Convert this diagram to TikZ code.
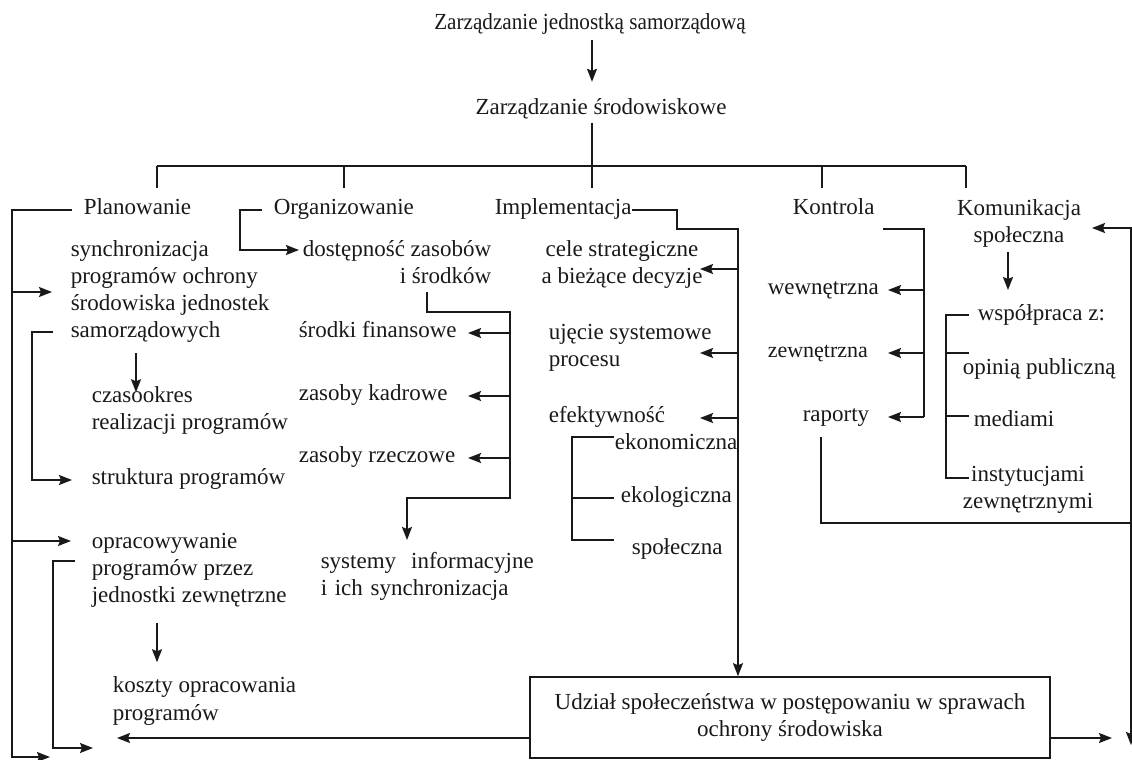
\documentclass[tikz,border=0pt]{standalone}
\usepackage{fontspec}
\setmainfont{Liberation Serif}
\usetikzlibrary{arrows.meta}
\tikzset{
  txt/.style={inner sep=0pt, anchor=mid west, align=left, font=\fontsize{11.5}{13.5}\selectfont},
  mtxt/.style={txt, anchor=west},
  ctxt/.style={txt, anchor=center, align=center},
  arr/.style={-{Stealth[length=6.5pt,width=5pt,inset=1pt]}},
}
\begin{document}
\begin{tikzpicture}[x=0.5pt,y=-0.5pt,line width=0.8pt,color=black!90]
  \useasboundingbox (0,0) rectangle (1132,760);

  % Top
  \coordinate (bus) at (592,166);
  \coordinate (busL) at (157,166);
  \coordinate (busR) at (966,166);
  \node[txt, anchor=mid] (top) at (590,25) {\scalebox{0.92}[1]{Zarządzanie jednostką samorządową}};
  \node[txt, anchor=mid] (zs) at (601,110) {Zarządzanie środowiskowe};
  \draw[arr, shorten <=2.5pt, shorten >=8pt] (top.south -| bus) -- (bus |- zs.north);
  \draw[shorten <=1.5pt] (bus |- zs.south) -- (bus);
  \draw (busL) -- (busR);
  \foreach \x [count=\i] in {157,344,592,822,966}{
    \coordinate (drop\i) at (\x,188);
    \draw (drop\i |- bus) -- (drop\i);
  }

  % Planowanie
  \node[txt] (plan) at (83,210) {Planowanie};
  \node[mtxt] (sync) at (70,292) {synchronizacja\\programów ochrony\\środowiska jednostek\\samorządowych};
  \node[mtxt] (czas) at (91,411) {czasookres\\realizacji programów};
  \node[txt] (strukt) at (91,480) {struktura programów};
  \node[mtxt] (oprac) at (91,570) {opracowywanie\\programów przez\\jednostki zewnętrzne};
  \node[mtxt] (koszty) at (112,701) {koszty opracowania\\programów};
  \coordinate (leftBot) at (12,757);
  \coordinate (leftEnd) at (50,757);
  \coordinate (opracIn) at (71,541);
  \coordinate (syncB) at (53,332);
  \coordinate (syncL) at (32,332);
  \coordinate (syncOut) at (136,353);
  \coordinate (opracB) at (75,561);
  \coordinate (opracL) at (53,748);
  \coordinate (opracEnd) at (93,748);
  \coordinate (opracOut) at (157,623);
  \draw[arr, shorten <=5.5pt] (plan.mid west) -| (leftBot) -- (leftEnd);
  \draw[arr, shorten >=9pt] (sync.west -| leftBot) -- (sync.west);
  \draw[arr] (opracIn -| leftBot) -- (opracIn);
  \draw[arr, shorten >=9.5pt] (syncB) -- (syncL) |- (strukt.mid west);
  \draw[arr, shorten >=-3pt] (syncOut) -- (syncOut |- czas.north);
  \draw[arr] (opracB) -| (opracL) -- (opracEnd);
  \draw[arr, shorten >=7pt] (opracOut) -- (opracOut |- koszty.north);

  % Organizowanie
  \node[txt] (org) at (273,210) {Organizowanie};
  \node[txt, anchor=east, align=right] (dost) at (492,262) {dostępność zasobów\\i środków};
  \node[txt] (fin) at (298,333) {środki finansowe};
  \node[txt] (kadr) at (298,396) {zasoby kadrowe};
  \node[txt] (rzecz) at (298,458) {zasoby rzeczowe};
  \node[mtxt, text width=106.5pt] (sys) at (320,576) {systemy\hfill informacyjne\\i ich synchronizacja};
  \coordinate (orgL) at (240,250);
  \coordinate (dostB) at (427,292);
  \coordinate (orgTop) at (510,312);
  \coordinate (orgBot) at (510,498);
  \coordinate (orgTip) at (468,312);
  \coordinate (sysIn) at (407,540);
  \draw[arr, shorten <=5.5pt, shorten >=1.5pt] (org.mid west) -| (orgL) -- (orgL -| dost.west);
  \draw[arr] (dostB) |- (orgTop) -- (orgBot) -| (sysIn);
  \foreach \n in {fin,kadr,rzecz}
    \draw[arr] (\n.mid east -| orgTop) -- (\n.mid east -| orgTip);

  % Implementacja
  \node[txt] (impl) at (494,210) {Implementacja};
  \node[ctxt] (cele) at (622,265) {cele strategiczne\\a bieżące decyzje};
  \node[mtxt] (ujecie) at (548,348) {ujęcie systemowe\\procesu};
  \node[txt] (efekt) at (548,418) {efektywność};
  \node[txt] (ekon) at (614,445) {ekonomiczna};
  \node[txt] (ekol) at (620,498) {ekologiczna};
  \node[txt] (spol) at (631,550) {społeczna};
  \node[ctxt, draw, minimum width=260pt, minimum height=40.5pt] (box) at (790,717.5)
    {Udział społeczeństwa w postępowaniu w sprawach\\ochrony środowiska};
  \coordinate (implA) at (677,229);
  \coordinate (implB) at (738,229);
  \coordinate (implTip) at (700,229);
  \coordinate (efA) at (572,437);
  \coordinate (efB) at (572,540);
  \draw[arr] (impl.mid east) -| (implA) -| (box.north -| implB);
  \draw[arr] ([yshift=-2pt]cele.east -| implB) -- ([yshift=-2pt]cele.east -| implTip);
  \draw[arr] ([yshift=-2.5pt]ujecie.east -| implB) -- ([yshift=-2.5pt]ujecie.east -| implTip);
  \draw[arr] (efekt.mid east -| implB) -- (efekt.mid east -| implTip);
  \draw (efA -| ekon.west) -- (efA) -- (efB) -- (efB -| ekon.west);
  \draw (ekol.mid west -| efA) -- (ekol.mid west -| ekon.west);

  % Kontrola
  \node[txt] (kontr) at (792,210) {Kontrola};
  \node[txt] (wewn) at (767,290) {wewnętrzna};
  \node[txt, font=\fontsize{11}{13}\selectfont] (zewn) at (767,353) {zewnętrzna};
  \node[txt] (raport) at (802,417) {raporty};
  \coordinate (konA) at (883,229);
  \coordinate (konB) at (924,229);
  \coordinate (konTip) at (888,229);
  \draw (konA) -- (konB) -- (konB |- raport.mid east);
  \foreach \n in {wewn,zewn,raport}
    \draw[arr] (\n.mid east -| konB) -- (\n.mid east -| konTip);

  % Komunikacja spoleczna
  \node[ctxt] (kom) at (1019,223) {Komunikacja\\społeczna};
  \node[txt] (wsp) at (977,316) {współpraca z:};
  \node[txt] (opin) at (962,370) {opinią publiczną};
  \node[txt] (media) at (973,422) {mediami};
  \node[ctxt] (inst) at (1028,490) {instytucjami\\zewnętrznymi};
  \coordinate (komA) at (1008,252);
  \coordinate (komB) at (1008,290);
  \coordinate (wspT) at (946,315);
  \coordinate (wspB) at (946,478);
  \coordinate (tickE) at (969,315);
  \draw[arr] (komA) -- (komB);
  \draw (wspT -| tickE) -- (wspT) -- (wspB) -- (wspB -| tickE);
  \draw ([yshift=8.5pt]opin.mid west -| wspT) -- ([yshift=8.5pt]opin.mid west -| tickE);
  \draw ([yshift=3pt]media.mid west -| wspT) -- ([yshift=3pt]media.mid west -| tickE);

  % Feedback lines
  \coordinate (rapA) at (821,437);
  \coordinate (rightC) at (1131,523);
  \coordinate (rightTop) at (1131,228);
  \coordinate (rightBot) at (1131,745);
  \coordinate (komTip) at (1092,228);
  \coordinate (boxL) at (117,738);
  \coordinate (boxR) at (1112,738);
  \draw (rapA) |- (rightC);
  \draw[arr] (rightC) -- (rightTop) -- (komTip);
  \draw[arr] (rightC) -- (rightBot);
  \draw[arr] (boxL -| box.west) -- (boxL);
  \draw[arr] (boxR -| box.east) -- (boxR);
\end{tikzpicture}
\end{document}
